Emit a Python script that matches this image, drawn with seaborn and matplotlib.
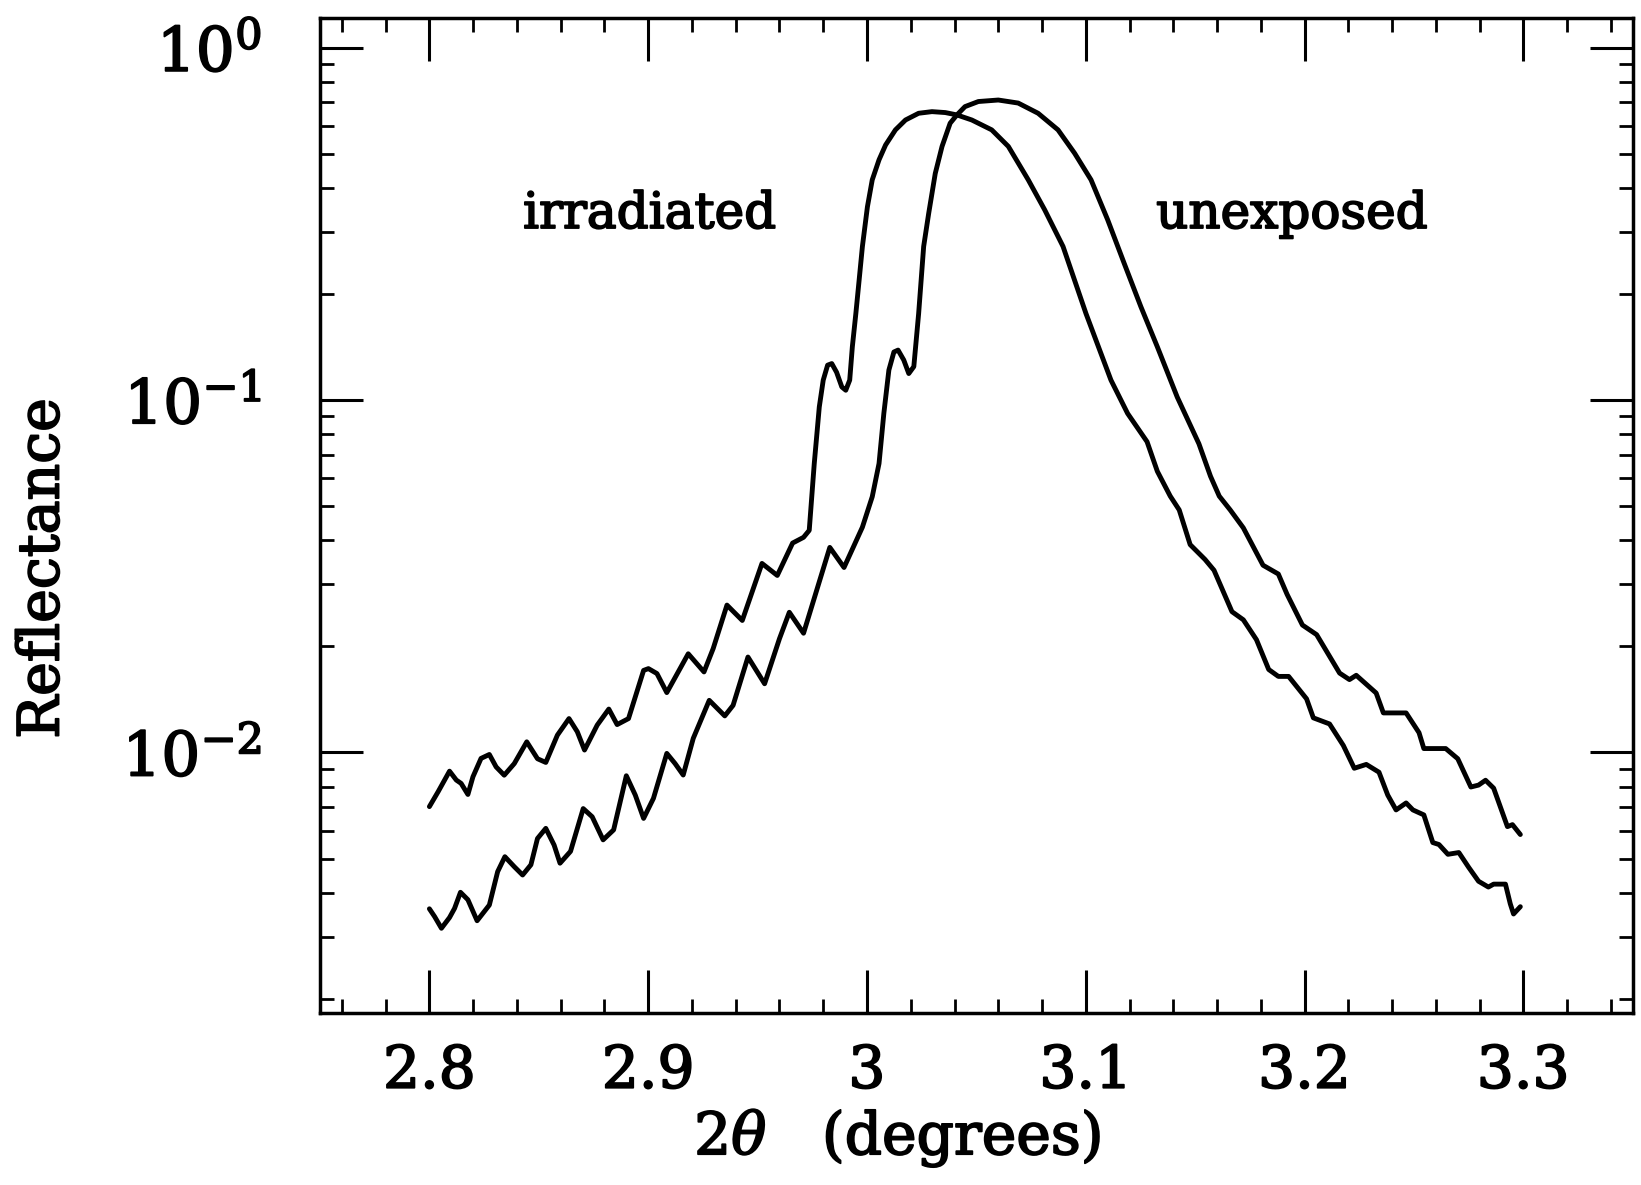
import numpy as np
import pandas as pd
import matplotlib
matplotlib.use("Agg")
import matplotlib.pyplot as plt
import matplotlib.patheffects as pe
import seaborn as sns
from matplotlib.ticker import MultipleLocator, LogLocator, NullFormatter

# reflectance curves (2theta in degrees)
irradiated_x = [2.8000, 2.8040, 2.8092, 2.8123, 2.8145, 2.8176, 2.8199, 2.8236, 2.8274, 2.8305,
                2.8342, 2.8388, 2.8445, 2.8494, 2.8532, 2.8585, 2.8638, 2.8676, 2.8709, 2.8767,
                2.8820, 2.8858, 2.8910, 2.8979, 2.9001, 2.9040, 2.9085, 2.9183, 2.9255, 2.9297,
                2.9360, 2.9430, 2.9520, 2.9590, 2.9660, 2.9710, 2.9736, 2.9759, 2.9782, 2.9800,
                2.9820, 2.9839, 2.9861, 2.9885, 2.9903, 2.9921, 2.9933, 2.9949, 2.9964, 2.9979,
                3.0002, 3.0024, 3.0055, 3.0085, 3.0130, 3.0176, 3.0236, 3.0297, 3.0358, 3.0411,
                3.0479, 3.0570, 3.0646, 3.0737, 3.0812, 3.0896, 3.1001, 3.1115, 3.1191,
                3.1280, 3.1327, 3.1386, 3.1427, 3.1477, 3.1545, 3.1586, 3.1668,
                3.1720, 3.1780, 3.1836, 3.1880, 3.1927, 3.2009, 3.2040, 3.2114, 3.2177, 3.2227,
                3.2282, 3.2340, 3.2380, 3.2418, 3.2464, 3.2495, 3.2545, 3.2586, 3.2614, 3.2655,
                3.2705, 3.2750, 3.2795, 3.2840, 3.2864, 3.2918, 3.2940, 3.2955, 3.2986]
irradiated_y = [0.00702, 0.00774, 0.00885, 0.00835, 0.00817, 0.00760, 0.00853, 0.00962, 0.00987, 0.00910,
                0.00862, 0.00930, 0.01072, 0.00960, 0.00937, 0.01120, 0.01248, 0.01145, 0.01016, 0.01196,
                0.01328, 0.01200, 0.01248, 0.01710, 0.01730, 0.01675, 0.01479, 0.01906, 0.01693, 0.01972,
                0.0262, 0.0237, 0.0344, 0.0318, 0.0393, 0.0408, 0.0427, 0.0661, 0.0957, 0.114,
                0.1257, 0.127, 0.120, 0.109, 0.1067, 0.114, 0.1417, 0.176, 0.219, 0.273,
                0.354, 0.422, 0.481, 0.530, 0.585, 0.624, 0.652, 0.659, 0.655, 0.645,
                0.624, 0.585, 0.525, 0.422, 0.347, 0.273, 0.176, 0.114, 0.0917,
                0.0762, 0.0628, 0.0534, 0.0488, 0.0389, 0.0353, 0.0329, 0.0251,
                0.0238, 0.0209, 0.0172, 0.01644, 0.01644, 0.0142, 0.01254, 0.01205, 0.01047, 0.00902,
                0.00925, 0.00879, 0.00757, 0.00687, 0.00719, 0.00687, 0.00665, 0.00555, 0.00548, 0.00514,
                0.00520, 0.00472, 0.00431, 0.00415, 0.00423, 0.00423, 0.00372, 0.00348, 0.00365]

unexposed_x = [2.8000, 2.8024, 2.8055, 2.8092, 2.8115, 2.8142, 2.8176, 2.8218, 2.8274, 2.8312,
               2.8345, 2.8388, 2.8426, 2.8464, 2.8494, 2.8532, 2.8570, 2.8597, 2.8645, 2.8703,
               2.8744, 2.8794, 2.8842, 2.8900, 2.8941, 2.8979, 2.9024, 2.9085, 2.9123, 2.9160,
               2.9206, 2.9279, 2.9350, 2.9388, 2.9456, 2.9532, 2.9600, 2.9645, 2.9710, 2.9830,
               2.9895, 2.9979, 3.0024, 3.0055, 3.0077, 3.0100, 3.0123, 3.0142, 3.0168, 3.0191,
               3.0214, 3.0236, 3.0259, 3.0282, 3.0312, 3.0343, 3.0380, 3.0411, 3.0448, 3.0509,
               3.0600, 3.0691, 3.0782, 3.0873, 3.0949, 3.1024, 3.1100, 3.1176, 3.1252, 3.1327,
               3.1418, 3.1517, 3.1570, 3.1610, 3.1660, 3.1720, 3.1810, 3.1880, 3.1920, 3.1990,
               3.2055, 3.2160, 3.2205, 3.2236, 3.2327, 3.2360, 3.2464, 3.2523, 3.2545, 3.2645,
               3.2700, 3.2760, 3.2795, 3.2827, 3.2864, 3.2927, 3.2950, 3.2986]
unexposed_y = [0.00360, 0.00342, 0.00317, 0.00340, 0.00361, 0.00401, 0.00382, 0.00333, 0.00369, 0.00459,
               0.00506, 0.00474, 0.00449, 0.00480, 0.00570, 0.00609, 0.00546, 0.00485, 0.00524, 0.00693,
               0.00657, 0.00565, 0.00603, 0.00859, 0.00757, 0.00650, 0.00741, 0.00994, 0.00930, 0.00863,
               0.01097, 0.01406, 0.01270, 0.01361, 0.01866, 0.01567, 0.02104, 0.0250, 0.0218, 0.0382,
               0.0335, 0.0436, 0.0532, 0.0661, 0.0917, 0.1217, 0.137, 0.1387, 0.130, 0.119,
               0.1245, 0.176, 0.273, 0.339, 0.440, 0.525, 0.611, 0.645, 0.681, 0.704,
               0.711, 0.697, 0.652, 0.585, 0.502, 0.422, 0.325, 0.244, 0.184, 0.1417,
               0.102, 0.0752, 0.0608, 0.0534, 0.0488, 0.0434, 0.0340, 0.0321, 0.0281, 0.0230,
               0.0216, 0.0168, 0.0161, 0.01656, 0.01475, 0.01295, 0.01295, 0.01138, 0.01026, 0.01026,
               0.0096, 0.00798, 0.00808, 0.00834, 0.00792, 0.00616, 0.00624, 0.00585]

x_ticks = [2.8, 2.9, 3.0, 3.1, 3.2, 3.3]
x_ticklabels = ['2.8', '2.9', '3', '3.1', '3.2', '3.3']
y_ticks = [1e-2, 1e-1, 1e0]
y_ticklabels = [r'$10^{-2}$', r'$10^{-1}$', r'$10^{0}$']

sns.set_theme(style='ticks')
plt.rcParams['font.family'] = ['DejaVu Serif']
plt.rcParams['mathtext.fontset'] = 'dejavuserif'
for key in ['text.color', 'axes.labelcolor', 'xtick.color', 'ytick.color', 'axes.edgecolor']:
    plt.rcParams[key] = 'black'

# thicken glyphs a little, the scan has heavy type
heavy = [pe.withStroke(linewidth=1.3, foreground='black')]

df = pd.concat([
    pd.DataFrame({'two_theta': irradiated_x, 'reflectance': irradiated_y, 'sample': 'irradiated'}),
    pd.DataFrame({'two_theta': unexposed_x, 'reflectance': unexposed_y, 'sample': 'unexposed'}),
], ignore_index=True)

fig = plt.figure(figsize=(16.41, 11.85), dpi=100)
ax = fig.add_axes([0.195, 0.145, 0.800, 0.840])

sns.lineplot(data=df, x='two_theta', y='reflectance', hue='sample',
             palette={'irradiated': 'black', 'unexposed': 'black'},
             estimator=None, sort=False, linewidth=3.5, legend=False, ax=ax)
for line in ax.get_lines():
    line.set_solid_joinstyle('round')
    line.set_solid_capstyle('round')

ax.set_yscale('log')
ax.set_xlim(2.75, 3.35)
ax.set_ylim(0.00182, 1.217)

ax.set_xticks(x_ticks, labels=x_ticklabels)
ax.xaxis.set_minor_locator(MultipleLocator(0.02))
ax.set_yticks(y_ticks, labels=y_ticklabels)
ax.yaxis.set_minor_locator(LogLocator(base=10, subs=np.arange(2, 10)))
ax.yaxis.set_minor_formatter(NullFormatter())

ax.tick_params(which='both', direction='in', top=True, right=True, color='black')
ax.tick_params(which='major', length=31, width=2.2)
ax.tick_params(which='minor', length=10, width=2.0)
ax.tick_params(axis='x', which='major', labelsize=42, pad=22)
ax.tick_params(axis='y', which='major', labelsize=44, pad=42)
for spine in ax.spines.values():
    spine.set_linewidth(2.5)

ax.set_xlabel(r'$2\theta$   (degrees)', fontsize=42)
ax.xaxis.set_label_coords(0.44, -0.095)
ax.set_ylabel('Reflectance', fontsize=41)
ax.yaxis.set_label_coords(-0.19, 0.447)

ax.text(2.9006, 0.308, 'irradiated', ha='center', va='baseline', fontsize=36, path_effects=heavy)
ax.text(3.1942, 0.308, 'unexposed', ha='center', va='baseline', fontsize=36, path_effects=heavy)

for lbl in ax.get_xticklabels() + ax.get_yticklabels() + [ax.xaxis.label, ax.yaxis.label]:
    lbl.set_path_effects(heavy)

fig.savefig('out.png', dpi=100, facecolor='white')
